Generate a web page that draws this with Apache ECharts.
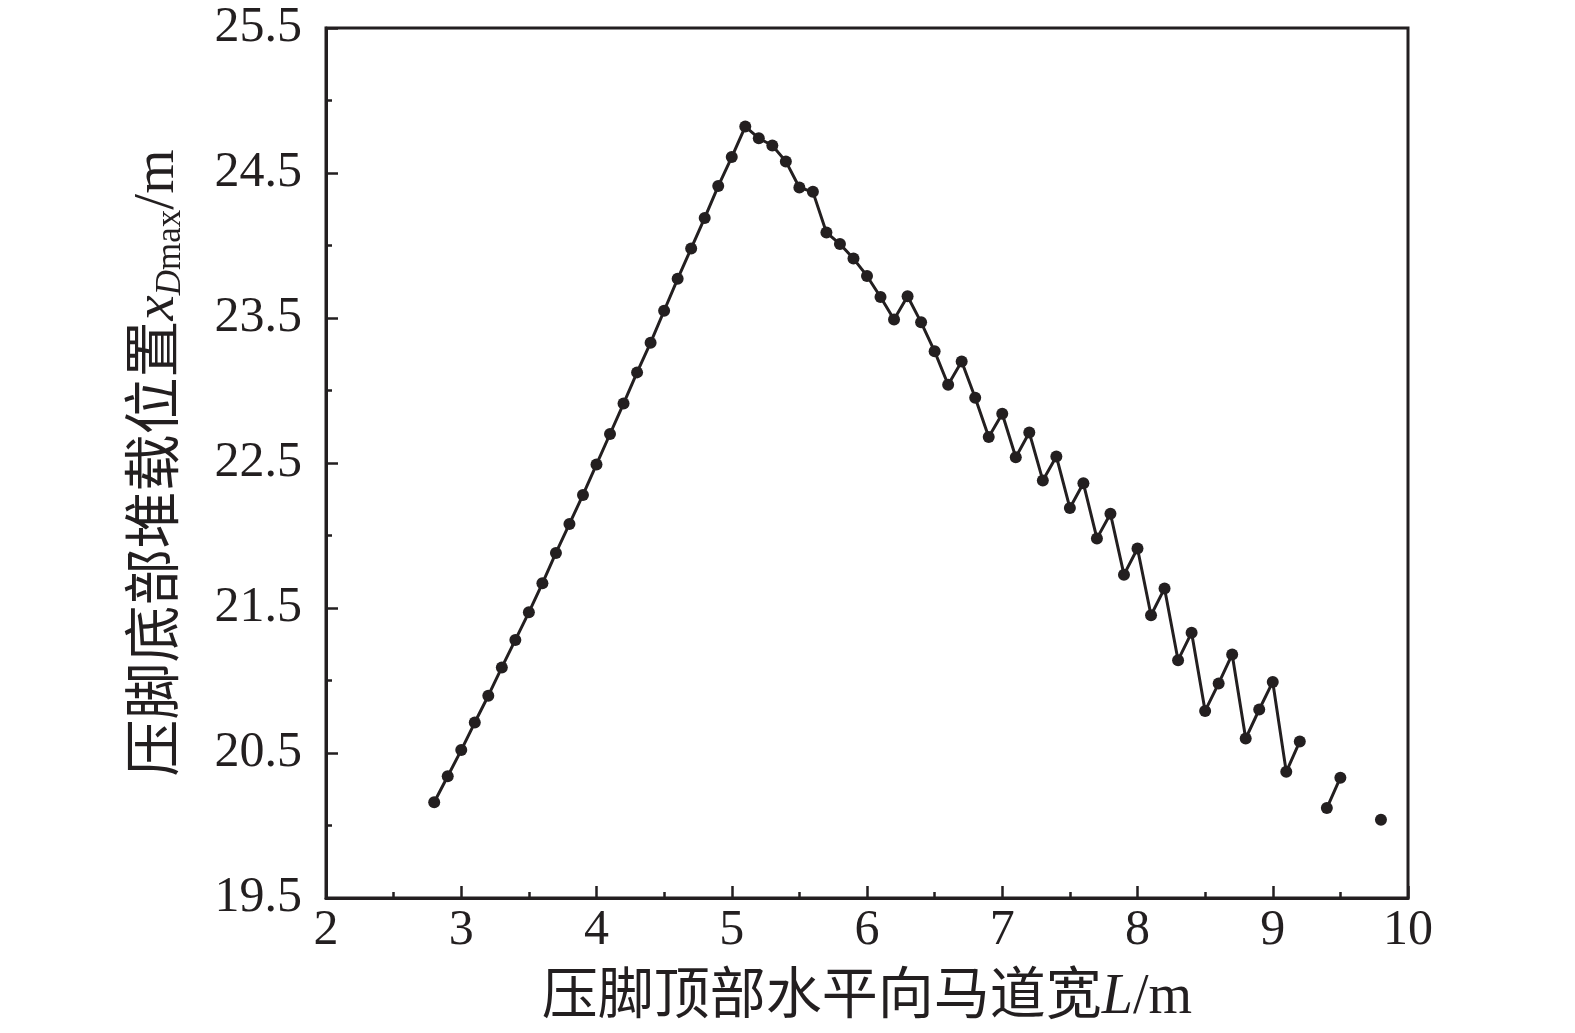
<!DOCTYPE html>
<html>
<head>
<meta charset="utf-8">
<script src="https://cdn.jsdelivr.net/npm/echarts@6/dist/echarts.min.js"></script>
<style>
html,body{margin:0;padding:0;background:#fff;}
#main{width:1575px;height:1033px;}
</style>
</head>
<body>
<div id="main"></div>
<script>
// Data (null = no point / gap)
const widthL = [2.8,2.9,3.0,3.1,3.2,3.3,3.4,3.5,3.6,3.7,3.8,3.9,4.0,4.1,4.2,4.3,4.4,4.5,4.6,4.7,4.8,4.9,5.0,5.1,5.2,5.3,5.4,5.5,5.6,5.7,5.8,5.9,6.0,6.1,6.2,6.3,6.4,6.5,6.6,6.7,6.8,6.9,7.0,7.1,7.2,7.3,7.4,7.5,7.6,7.7,7.8,7.9,8.0,8.1,8.2,8.3,8.4,8.5,8.6,8.7,8.8,8.9,9.0,9.1,9.2,9.3,9.4,9.5,9.6,9.7,9.8];
const xDmax = [20.16,20.34,20.52,20.71,20.895,21.09,21.28,21.47,21.67,21.88,22.08,22.28,22.49,22.70,22.91,23.125,23.33,23.55,23.77,23.98,24.19,24.41,24.61,24.82,24.74,24.69,24.58,24.40,24.37,24.09,24.01,23.91,23.79,23.645,23.49,23.65,23.47,23.27,23.04,23.20,22.95,22.68,22.84,22.54,22.71,22.38,22.545,22.19,22.36,21.98,22.15,21.73,21.91,21.45,21.635,21.14,21.33,20.79,20.98,21.18,20.60,20.80,20.99,20.37,20.58,null,20.12,20.33,null,null,20.04];
const xTicks = {min:2, max:10, interval:1};
const yTicks = {min:19.5, max:25.5, interval:1};

const seriesData = widthL.map((x,i)=>[x, xDmax[i]===null ? '-' : xDmax[i]]);

const INK = '#231f20';
const SERIF = '"Liberation Serif","Times New Roman","Noto Sans CJK SC",serif';
const CJK = '"Liberation Serif","Noto Sans CJK SC",serif';

const chart = echarts.init(document.getElementById('main'));
chart.setOption({
  backgroundColor:'#fff',
  animation:false,
  grid:{left:326, right:167, top:28, bottom:135, show:true, borderColor:INK, borderWidth:3},
  xAxis:{
    type:'value', min:xTicks.min, max:xTicks.max, interval:xTicks.interval,
    axisLine:{show:true, onZero:false, lineStyle:{color:INK, width:3}},
    axisTick:{show:true, inside:true, length:12, lineStyle:{color:INK, width:2.5}},
    minorTick:{show:true, splitNumber:2, length:6, lineStyle:{color:INK, width:2.5}},
    splitLine:{show:false},
    axisLabel:{color:INK, fontFamily:SERIF, fontSize:50, margin:8},
    name:'压脚顶部水平向马道宽{i|L}/m',
    nameLocation:'middle', nameGap:72,
    nameTextStyle:{color:INK, fontFamily:CJK, fontSize:56,
      rich:{i:{fontFamily:SERIF, fontStyle:'italic', fontSize:56, color:INK}}}
  },
  yAxis:{
    type:'value', min:yTicks.min, max:yTicks.max, interval:yTicks.interval,
    axisLine:{show:true, onZero:false, lineStyle:{color:INK, width:3}},
    axisTick:{show:true, inside:true, length:12, lineStyle:{color:INK, width:2.5}},
    minorTick:{show:true, splitNumber:2, length:6, lineStyle:{color:INK, width:2.5}},
    splitLine:{show:false},
    axisLabel:{color:INK, fontFamily:SERIF, fontSize:50, margin:24},
    name:'压脚底部堆载位置{i|x}{sub|D}{subn|max}/m',
    nameLocation:'middle', nameGap:138, nameRotate:90,
    nameTextStyle:{color:INK, fontFamily:CJK, fontSize:57, lineHeight:60,
      rich:{
        i:{fontFamily:SERIF, fontStyle:'italic', fontSize:57, color:INK},
        sub:{fontFamily:SERIF, fontStyle:'italic', fontSize:35, color:INK, verticalAlign:'bottom', padding:[22,0,0,0]},
        subn:{fontFamily:SERIF, fontSize:35, color:INK, verticalAlign:'bottom', padding:[22,0,0,0]}
      }}
  },
  series:[{
    type:'line',
    data:seriesData,
    connectNulls:false,
    showAllSymbol:true,
    symbol:'circle', symbolSize:12,
    lineStyle:{color:INK, width:3},
    itemStyle:{color:INK},
    z:3
  }]
});
</script>
</body>
</html>
